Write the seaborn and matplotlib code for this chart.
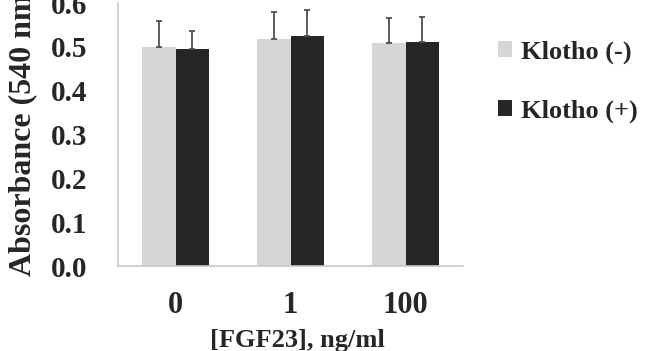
import numpy as np
import pandas as pd
import matplotlib
matplotlib.use("Agg")
import matplotlib.pyplot as plt
import seaborn as sns

doses = ["0", "1", "100"]
klotho_minus = [0.500, 0.518, 0.509]
klotho_plus = [0.495, 0.525, 0.511]
err_minus = [0.059, 0.062, 0.057]
err_plus = [0.042, 0.059, 0.057]
series = ["Klotho (-)", "Klotho (+)"]
y_ticks = [0.0, 0.1, 0.2, 0.3, 0.4, 0.5, 0.6]

df = pd.DataFrame({
    "dose": doses * 2,
    "klotho": [series[0]] * 3 + [series[1]] * 3,
    "absorbance": klotho_minus + klotho_plus,
    "err": err_minus + err_plus,
})

sns.set_style("white")
plt.rcParams["font.family"] = ["Liberation Serif", "DejaVu Serif"]
plt.rcParams["font.weight"] = "bold"

fig = plt.figure(figsize=(6.5, 3.51), dpi=100)
ax = fig.add_axes([0.1815, 0.242, 0.531, 0.749])

sns.barplot(data=df, x="dose", y="absorbance", hue="klotho", order=doses,
            hue_order=series, palette=["#d6d6d6", "#262626"], width=0.58,
            errorbar=None, saturation=1, linewidth=0, ax=ax, legend=True)

# upper-only error bars, placed on the bar centres seaborn drew
for cont, name in zip(ax.containers, series):
    sub = df[df.klotho == name].set_index("dose").loc[doses]
    xs = [p.get_x() + p.get_width() / 2 for p in cont.patches]
    ax.errorbar(xs, sub.absorbance, yerr=[np.zeros(3), sub.err], fmt="none",
                ecolor="#505050", elinewidth=1.3, capsize=2.5, capthick=1.3)

ax.set_ylim(0, 0.6)
ax.set_xlim(-0.5, 2.5)
ax.set_yticks(y_ticks)
ax.set_yticklabels([f"{v:.1f}" for v in y_ticks], fontsize=21, fontweight="bold")
ax.set_xticks(range(len(doses)))
ax.set_xticklabels(doses, fontsize=22, fontweight="bold")
ax.tick_params(axis="y", direction="in", length=8, color="#c8c8c8", width=1, pad=22)
ax.tick_params(axis="x", length=0, pad=18)

for s in ["top", "right"]:
    ax.spines[s].set_visible(False)
for s in ["left", "bottom"]:
    ax.spines[s].set_color("#c8c8c8")
    ax.spines[s].set_linewidth(1.2)

ax.set_xlabel("[FGF23], ng/ml", fontsize=19, fontweight="bold")
ax.xaxis.set_label_coords(0.519, -0.24)
ax.set_ylabel("Absorbance (540 nm)", fontsize=23, fontweight="bold")
ax.yaxis.set_label_coords(-0.235, 0.52)

handles, labels = ax.get_legend_handles_labels()
ax.legend(handles, labels, loc="upper left", bbox_to_anchor=(0.729, 0.953),
          bbox_transform=fig.transFigure, frameon=False,
          handlelength=0.55, handleheight=0.55, handletextpad=0.35,
          labelspacing=1.36, prop={"weight": "bold", "size": 19})

fig.savefig("out.png", dpi=100)
